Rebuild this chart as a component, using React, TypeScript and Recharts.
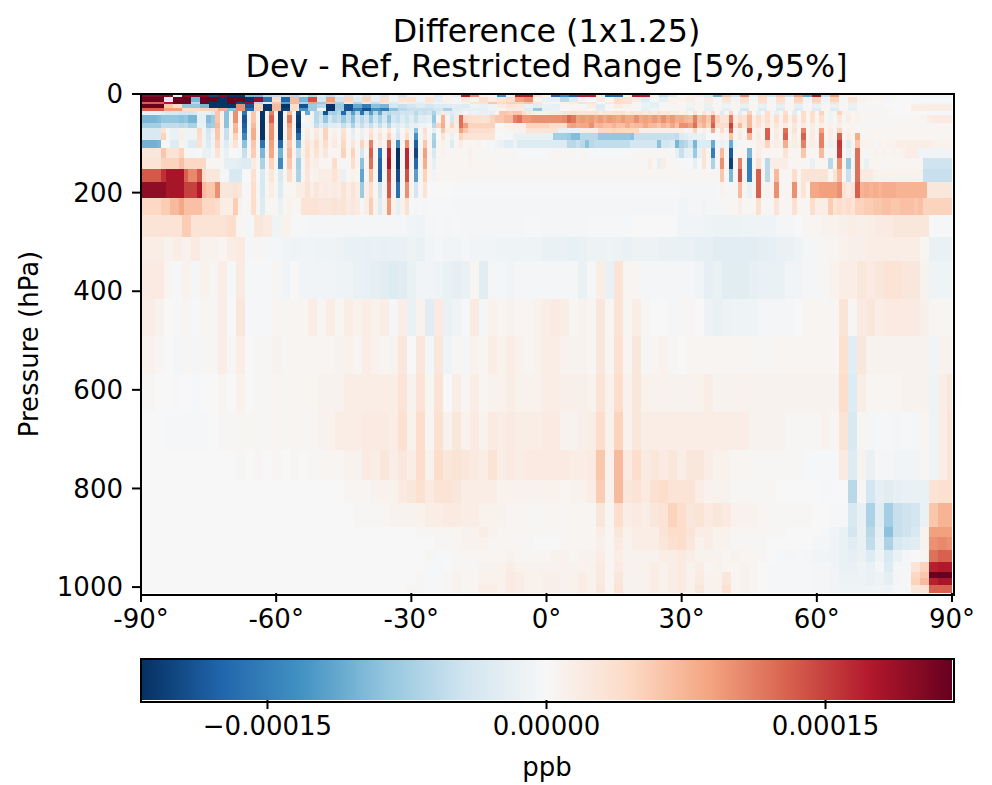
import { Scatter, ScatterChart, XAxis, YAxis } from "recharts";

const VMAX = 218;
const LAT_TICKS = [-90, -60, -30, 0, 30, 60, 90];
const PRESSURE_TICKS = [0, 200, 400, 600, 800, 1000];
const CBAR_TICKS = [-0.00015, 0, 0.00015];
const RDBU = ["#053061", "#2166ac", "#4393c3", "#92c5de", "#d1e5f0", "#f7f7f7", "#fddbc7", "#f4a582", "#d6604d", "#b2182b", "#67001f"];

// layer edges in hPa, one more than there are rows
const PRESSURE_EDGES = [0, 7, 17, 21, 29, 35, 42, 58, 68, 80, 94, 110, 129, 153, 179, 210, 246, 291, 339, 416, 491, 568, 645, 722, 783, 830, 879, 899, 925, 950, 970, 982, 996, 1012];

// rows with 91 values are 2 degree, rows with 181 values are 1 degree
const T94 = [200, 200, 200, 200, -20, 200, 200, 200, -200, 200,
  -215, -215, -100, -100, -60, -50, -50, -60, -30, -60,
  -30, -50, -20, -40, -15, -40, -15, -40, -10, -40,
  10, -10, 10, -30, 10, -20, 170, 100, 10, -5,
  -130, 10, 170, 170, 40, 10, -170, -140, -180, 170,
  170, -15, -170, -170, 10, 170, 170, 10, -50, -30,
  5, 10, 20, -30, -100, 60, -40, 100, -20, 50,
  -40, 60, -50, 90, -110, 170, -50, 90, 5, 5,
  5, 5, 5, 5, 5, 0, -5, -5, -5, -5,
  -5];
const T97 = [215, 215, 215, -30, 215, 215, -100, 215, 215, -215,
  215, 215, -215, 190, -160, 40, -175, 70, -100, 140,
  -40, 90, -45, 50, -30, 50, -20, 40, -10, 30,
  30, -10, 30, -20, 10, -5, 25, 10, 40, 20,
  30, 40, 90, 100, 10, -15, -20, -60, -30, -10,
  -5, 20, -5, 40, 30, 20, -30, -5, -20, 10,
  10, 15, -5, 20, -5, 30, -10, 40, -5, 40,
  -5, 40, -5, 50, -10, 50, -10, 50, -5, 30,
  10, 5, 5, -5, 0, 0, -3, -3, -3, -3,
  -3];
const T102 = [130, 130, 130, 175, 215, 215, -60, 215, -215, -215,
  215, -200, 190, -60, -30, 60, -120, 70, -70, 90,
  -80, 70, -70, 30, -60, 30, -50, 30, -30, 15,
  20, -20, 20, -10, 10, -5, 10, 30, 30, 60,
  40, 50, 50, 60, 30, 10, 5, 10, 15, 30,
  25, 5, 20, 40, 35, 5, -15, -20, -5, 10,
  5, 10, 5, 15, 5, 20, 5, 30, 5, 30,
  5, 30, 5, 40, 5, 40, 5, 30, 5, 20,
  5, 0, -3, -3, 0, -3, -3, -5, -5, -5,
  -5];
const T104 = [215, 215, 215, 60, 40, -85, -85, -100, -215, -215,
  -215, 100, -190, 50, -215, 70, -215, 40, -190, -80,
  -60, -215, -80, -190, -110, -150, -90, -100, -40, -50,
  -40, -30, -40, -30, -30, -25, -30, -10, -15, -10,
  20, 30, 25, -15, -25, -15, -20, 5, 5, -5,
  15, -30, 5, 20, 10, 5, -15, -20, 5, 5,
  5, -10, 5, -15, 5, -10, 5, -15, 5, -15,
  5, -20, 5, -20, 5, -15, 5, -15, 5, -15,
  3, 3, 3, 0, 0, 0, 15, 15, 15, 15,
  15];
const T108 = [130, 130, 130, 90, 90, 40, 40, 50, 50, 80,
  -90, 100, -170, 50, -215, 70, -205, 40, -130, -80,
  -10, -215, -75, -190, -150, -190, -130, -150, -90, -60,
  -50, -50, -50, -40, -70, -25, -20, -20, -20, -10,
  5, 20, 20, -30, -85, -20, -15, 0, 10, 10,
  5, -25, -5, 5, 5, -5, -20, -10, 5, 5,
  5, -15, 5, -20, 5, -20, 5, -40, 5, -30,
  5, -30, 5, -30, 5, -30, 5, -30, 5, -20,
  5, 3, 3, 3, 0, 0, 15, 15, 15, 15,
  15];
const R111 = [-15, -15, -15, -15, -15, -30, -35, -35, -35, -40,
  -40, -40, -35, -15, -15, -20, -30, 60, 10, -90,
  -10, 100, -5, -160, 5, 60, 5, -215, 10, 110,
  10, -215, 5, 70, 5, -200, 0, -110, -10, -60,
  -50, -190, -70, -75, -60, -170, -60, -120, -60, -160,
  -60, -120, -60, -110, -50, -60, -50, -50, -40, -45,
  -40, -60, -45, -50, -40, -70, -30, 20, -20, -30,
  -20, -15, -5, -15, -10, -15, -15, -15, -20, 5,
  60, 60, 55, 60, 60, 40, 25, 15, 10, 10,
  10, 15, 15, 20, 25, 30, 35, 30, 30, 30,
  30, 35, 20, 30, 25, 30, 30, 35, 20, 30,
  25, 30, 20, 25, 20, 30, 20, 25, 15, 20,
  10, 15, -5, 30, -5, 30, 10, 40, 5, -30,
  5, 50, 0, -25, 5, 50, 0, -20, 5, 40,
  5, -20, 5, 40, 0, -25, 0, 40, 5, 40,
  5, 50, 5, -10, 5, 50, 10, 10, 5, 10,
  5, 3, 5, 3, 5, 3, 0, -3, 0, 0,
  0, 0, 0, 0, 0, -3, -3, -3, -3, -3, -3];
const R114 = [-100, -100, -100, -100, -95, -85, -85, -85, -85, -90,
  -85, -100, -100, -20, -20, -95, -80, 60, 10, -90,
  5, 100, 0, -190, 5, 60, 5, -215, 10, 130,
  10, -215, 5, 115, 5, -210, 0, 10, -10, -60,
  -40, -85, -40, -60, -50, -80, -50, -90, -40, -60,
  -40, -80, -40, -70, -40, -85, -40, -50, -30, -45,
  -25, -50, -25, -25, -20, -85, 5, 75, 5, -40,
  20, 120, 45, 40, 35, 35, 30, 35, 50, 60,
  60, 70, 70, 110, 120, 95, 95, 100, 100, 100,
  100, 100, 100, 100, 105, 125, 115, 90, 95, 90,
  95, 85, 95, 85, 95, 90, 85, 95, 85, 85,
  100, 85, 90, 85, 95, 85, 100, 85, 95, 80,
  85, 75, 70, 110, 70, 80, 60, 115, 50, 30,
  30, 115, 20, 40, 30, 70, 15, 40, 15, 40,
  10, 40, 10, 45, 10, 40, 5, 40, 5, 35,
  5, 35, 5, -10, 3, 25, -5, 15, 5, 10,
  5, 5, 5, 3, 3, 3, 3, 3, 5, 5,
  5, 5, 5, 5, 5, 15, 20, 20, 20, 20, 20];
const R122 = [-75, -75, -75, -75, -75, -55, -55, -55, -55, -60,
  -55, -70, -70, -15, -15, -80, -75, 70, 10, -90,
  5, 70, 0, -180, 5, 70, 5, -215, 10, 100,
  10, -215, 5, 90, 5, -215, -10, -10, -10, -50,
  -25, -45, -25, -25, -20, -50, -25, -70, -25, -50,
  -25, -50, -20, -50, -20, -60, -20, -30, -15, -35,
  -15, -20, -10, -10, -5, -60, 50, 80, 10, 50,
  15, 120, 90, 50, 50, 50, 50, 50, 50, 0,
  0, 10, 10, 15, 15, 15, 50, 50, 50, 50,
  50, 40, 40, 40, 40, 85, 90, 80, 85, 85,
  100, 70, 75, 65, 65, 75, 65, 65, 80, 65,
  70, 70, 85, 70, 70, 60, 75, 65, 85, 65,
  100, 100, 90, 120, 60, 75, 50, 130, 40, 40,
  40, 150, 30, 70, 25, 70, 15, 30, 10, 30,
  10, 25, 10, 20, 5, 25, 5, 20, 5, 15,
  5, 15, 5, 10, 3, 15, 5, 5, 5, 5,
  3, 3, 3, 3, 3, 3, 3, 3, 3, 3,
  3, 3, 3, 3, 3, 3, 5, 5, 5, 5, 5];
const R127 = [-35, -35, -35, -35, -35, 30, -5, -15, -15, 10,
  -10, -10, -10, 45, -10, -40, -15, 60, 5, -50,
  5, 75, 0, -170, 5, 80, 5, -215, 10, 100,
  5, -215, 5, 80, 5, -200, 5, 15, 5, 20,
  5, 50, 5, 10, -5, 30, 0, -25, 0, -15,
  5, 25, 5, 15, 0, 30, 0, -30, 0, 20,
  -10, -90, -5, 40, 0, -20, 0, 60, 15, 15,
  15, 90, 60, 40, 40, 40, 40, 40, 35, 5,
  5, 5, 10, 10, 10, 10, 30, 30, 30, 30,
  30, 30, 30, -15, -15, -15, -15, -15, 15, 15,
  15, 15, 45, 45, 45, 50, 45, 45, 45, 45,
  45, 15, 15, 15, 15, 15, 15, 15, 15, 15,
  15, 5, 10, 50, 5, 15, 5, 80, 5, 40,
  10, 130, 5, 15, 5, 130, 5, 15, 5, 130,
  5, 15, 5, 120, 5, 30, 0, 110, 5, 15,
  5, 90, 5, 15, 5, 50, 5, 10, 5, 5,
  3, 3, 3, 3, 3, 3, 3, 3, 3, 3,
  3, 3, 3, 3, 3, 3, 3, 3, 3, 3, 3];
const R133 = [-35, -35, -35, -35, -35, 50, -5, -15, -15, 15,
  -10, -10, -10, 40, -10, -35, -10, 60, 5, -50,
  5, 50, 0, -140, 5, 80, 5, -215, 10, 100,
  5, -215, 5, 80, 5, -170, 5, 20, 5, 25,
  5, 50, 5, 15, -5, 40, 5, -20, 5, -15,
  5, 40, 5, 30, 5, 50, 5, -40, 5, 40,
  -5, -130, -5, 30, -5, -70, 0, 30, 5, -15,
  5, 50, 30, 30, 30, 30, 30, 30, 30, -3,
  -3, -3, -3, -15, -15, -15, -15, -15, -15, -15,
  -15, -15, -75, -75, -75, -80, -95, -95, -60, -60,
  -60, -60, -85, -85, -85, -85, -85, -85, -85, -90,
  -50, -50, -50, -50, -50, -50, -50, -50, -50, -55,
  -30, -25, -20, -20, -15, -20, 0, -5, 0, 10,
  5, 60, 5, 20, 5, 70, 5, 20, 5, 130,
  5, 20, 5, 130, 5, 20, 5, 130, 5, 20,
  5, 110, 5, 15, 5, 130, 5, 15, 5, 80,
  5, 5, 5, 5, 5, 5, 5, 5, 5, 5,
  5, 5, 5, 5, 5, 5, 5, 5, 5, 5, 5];
const R140 = [-105, -105, -105, -105, -100, -5, -5, -30, -30, 10,
  -10, -30, -30, 35, -10, -30, -10, 50, -10, -30,
  10, 30, 0, -90, -5, 60, 5, -160, 5, 90,
  5, -170, 5, 60, 5, -100, 10, 30, 15, 40,
  10, 40, 5, 20, 5, 45, 5, 25, 5, 50,
  10, 110, 5, 20, 5, 120, 5, -140, 5, 100,
  5, -180, 5, 60, 5, -75, 5, 10, 5, -30,
  5, 15, 5, 5, 5, 10, 0, -5, -5, -10,
  -15, -25, -25, -10, -30, -30, -30, -30, -30, -30,
  -30, -30, -30, -30, -30, -60, -60, -50, -60, -90,
  -60, -55, -55, -55, -55, -55, -55, -55, -55, -40,
  -40, -40, -40, -40, -40, -90, -40, -40, -30, -100,
  -70, -60, -40, -100, -30, -30, -30, -110, -10, -15,
  -10, -110, -10, -5, 5, 5, 5, 15, 15, 50,
  10, 15, 10, 80, 10, 15, 10, 110, 10, 15,
  10, 110, 10, -15, 10, 155, 10, -30, 10, 60,
  10, 10, 10, -5, 10, 5, 10, 10, 15, 15,
  15, 15, 15, 15, 15, 15, 10, 10, 10, 10, 10];
const R148 = [25, 25, 25, 25, 25, 60, 30, 30, 30, 50,
  5, -5, -5, -3, -15, -15, -5, 30, -5, -15,
  0, 0, -5, -50, 5, 55, 5, -100, 10, 85,
  5, -105, 5, 70, 5, -50, 10, 40, 10, 30,
  10, 25, 5, 5, 5, 50, 5, 50, 5, -40,
  5, 130, 5, -160, 5, 170, 5, -218, 5, 165,
  5, -200, 5, 90, 5, -35, 5, 10, 5, 3,
  5, 3, 3, 12, 3, 3, 3, 3, 3, 3,
  3, 3, 3, 3, -3, -3, -3, -3, -3, -3,
  -3, 3, 3, 3, 3, 3, 3, -3, 3, 3,
  -3, -3, -3, -3, -3, -3, -3, -3, -3, -3,
  3, 3, 3, 3, 3, 3, 3, 3, -5, -20,
  -50, -20, -15, -80, -15, 30, 5, -150, 5, 70,
  5, -185, 5, 5, 5, -100, 5, 15, 5, 5,
  5, 5, 5, 30, 5, 5, 5, 60, 5, 5,
  5, 70, 5, 5, 5, 150, 5, -15, 5, 120,
  5, -5, 5, 10, 5, 10, 5, 10, 5, 10,
  15, 15, 15, -8, -8, -8, -8, -8, -8, -8, -8];
const R157 = [30, 30, 30, 30, 30, 50, 50, 50, 50, 65,
  45, 45, 45, 45, 45, 3, 3, 3, 3, -20,
  -20, -20, -25, -30, -30, 20, 5, -70, 5, 50,
  5, -140, 5, 60, 5, -75, 5, 30, 10, 15,
  5, 5, 5, 40, 5, -5, 5, 40, 5, -90,
  5, 120, 5, -175, 5, 180, 5, -215, 5, 165,
  5, -170, 5, 80, 5, -20, 5, 5, 5, 5,
  5, 5, 5, 8, 5, 5, 5, 5, 5, 5,
  3, 3, 3, 3, 3, 3, 3, 3, 3, 3,
  3, 3, 3, 3, 3, 3, 3, 3, 3, 3,
  3, 3, 3, 3, 3, 3, 3, 3, 3, 3,
  3, 3, 3, 15, 3, -20, 15, 3, 3, 3,
  -3, -3, -3, -20, -3, 30, 3, -70, 3, 100,
  3, -205, 3, 110, 3, -150, 3, 35, 3, -60,
  15, 15, 15, 15, 5, 5, 5, 5, 5, -15,
  5, 5, 5, -60, 5, 100, 5, -85, 5, 120,
  5, -15, 5, 5, 5, -5, 5, 5, 5, 5,
  5, 5, 5, 5, -45, -45, -45, -45, -45, -45, -45];
const R169 = [135, 135, 135, 135, 135, 160, 180, 180, 180, 180,
  130, 105, 105, 135, 40, 25, 25, 25, -5, -5,
  -35, -35, -35, 0, 0, 35, 0, -35, 5, 25,
  5, -35, 5, 40, 5, -70, 5, 25, 5, 10,
  15, 15, 15, 30, 15, -15, 5, 10, 5, -115,
  5, 70, 5, -180, 5, 145, 5, -195, 5, 140,
  5, -120, 5, 50, 5, -8, 5, 5, 5, 5,
  5, 5, 5, 5, 5, 5, 5, 5, 5, 5,
  5, 5, 5, 5, 5, 5, 5, 5, 5, 5,
  5, 5, 5, 5, 5, 5, 5, 5, 5, 5,
  5, 5, 5, 5, 5, 5, 5, 5, 5, 5,
  5, 5, 5, 5, 5, 5, 5, 5, 5, 5,
  3, 3, 3, 3, 3, 5, 3, 3, 3, 60,
  3, -100, 3, 140, 3, -150, 3, 130, 3, -60,
  5, 70, 5, 5, 5, 40, 5, 30, 30, 30,
  30, 30, 30, 5, 30, 70, 5, -50, 5, 120,
  20, 20, 20, 10, 10, 10, 10, 10, 10, 10,
  10, 10, 10, 10, -50, -50, -50, -50, -50, -50, -50];
const R182 = [195, 195, 195, 195, 195, 195, 180, 180, 180, 180,
  150, 150, 150, 175, 70, 60, 60, 100, 25, 25,
  25, 30, 25, -5, 5, 40, 5, -35, 5, 15,
  5, -30, 5, 5, 5, 15, 15, 30, 15, 25,
  15, 20, 15, 20, 15, 30, 15, 30, 15, -80,
  15, 40, 5, -45, 5, 135, 5, -165, 5, 100,
  5, -40, 5, 30, 0, 0, 0, 0, 0, 0,
  -3, -3, -3, -3, -3, -3, -3, -3, -3, -3,
  -3, -3, -3, -3, -3, -3, -3, -3, -3, -3,
  -3, -3, -3, -3, -3, -3, -3, -3, -3, -3,
  -3, -3, -3, -3, -3, -3, -3, -3, -3, -3,
  -3, -3, -3, -3, -3, -3, -3, -3, -3, -3,
  -5, -5, -5, -5, -5, -5, -5, -5, -3, 10,
  3, 3, 3, 70, 3, -15, 3, 130, 3, 10,
  5, 100, 5, 5, 5, 100, 5, 30, 5, 85,
  85, 90, 90, 90, 90, 100, 30, 20, 30, 130,
  75, 80, 75, 80, 75, 80, 80, 80, 75, 75,
  75, 75, 75, 75, 75, 25, 25, 25, 25, 25, 25];
const R197 = [45, 45, 45, 45, 45, 55, 55, 70, 70, 85,
  65, 65, 65, 65, 45, 45, 45, 40, 15, 15,
  15, 55, 10, -3, 5, 40, 5, -30, 5, 5,
  5, -15, 5, 10, 5, 5, 30, 30, 30, 30,
  25, 25, 25, 30, 25, 30, 20, 25, 20, -5,
  15, 55, 10, -30, 10, 95, 10, -20, 10, 35,
  -3, -5, -3, 3, -3, -3, -3, -3, -3, -3,
  -5, -5, -5, -5, -5, -5, -5, -5, -5, -5,
  -5, -5, -5, -5, -5, -5, -5, -5, -5, -5,
  -5, -5, -5, -5, -5, -5, -5, -5, -5, -5,
  -5, -5, -5, -5, -5, -5, -5, -5, -5, -5,
  -5, -5, -5, -5, -5, -5, -5, -5, -5, -5,
  -8, -8, -5, -5, -5, -8, -5, -5, -5, -5,
  3, 3, 3, 15, 3, 3, 5, 35, 3, 3,
  3, 30, 5, 5, 3, 35, 5, 5, 5, 40,
  15, 15, 15, 55, 30, 40, 30, 40, 30, 50,
  50, 55, 55, 60, 60, 65, 65, 60, 60, 65,
  65, 65, 60, 65, 50, 50, 50, 50, 50, 50, 50];
const L215 = [30, 30, 30, 30, 30, 55, 30, 30, 30, 30,
  40, 5, -5, 25, 20, -10, 10, -3, -3, -5,
  -5, -5, -5, -5, -5, -5, -5, -5, -5, -5,
  -8, -10, -5, -3, -5, -3, -5, -5, -5, -5,
  -5, -5, -5, -3, -3, -5, -5, -5, -5, -5,
  -3, -3, -3, -3, -3, 0, 0, 0, 0, 0,
  -8, -8, -8, -10, -12, -12, -12, -10, -10, -10,
  -10, -5, -5, 0, 5, 5, 8, 10, 12, 15,
  12, 15, 18, 20, 25, 25, 25, 25, -3, -3,
  -3];
const L237 = [15, 15, 15, 8, 15, 8, 20, 8, 10, 5,
  15, 20, -5, 5, -5, -5, -8, -10, -8, -8,
  -10, -10, -12, -15, -15, -18, -15, -18, -15, -15,
  -12, -15, -8, -5, -8, -8, -5, -8, -8, -8,
  -10, -10, -10, -10, -10, -15, -15, -15, -18, -15,
  -12, -12, -10, -12, -15, -12, -12, -12, -15, -15,
  -15, -15, -20, -20, -25, -25, -25, -25, -25, -22,
  -20, -15, -15, -10, -5, -5, 3, 5, 10, 12,
  12, 15, 15, 15, 15, 15, 15, 5, -15, -15,
  -15];
const L261 = [20, 20, 20, 5, -3, 10, -5, 10, 3, 15,
  -3, 20, -3, -3, -3, 5, -8, 0, -8, -8,
  -8, -8, -10, -10, -15, -18, -22, -25, -30, -25,
  -15, -8, -8, -10, -15, -20, -15, 5, -25, -5,
  -5, -8, -5, -5, -5, -5, -5, -5, -5, -15,
  -5, 15, -15, 30, 5, 5, -5, -5, -5, -5,
  -5, -5, -8, -20, -15, -25, -25, -25, -20, -15,
  -15, -15, -8, -8, -5, -5, 3, 10, 15, 15,
  25, 20, 25, 30, 30, 25, 25, 8, -10, -10,
  -10];
const L299 = [15, 15, 8, 0, -3, 5, -3, 5, 3, 15,
  0, 25, -3, -3, -3, 5, 3, 5, 5, 15,
  5, 15, 5, 15, 10, 15, 10, 15, -5, 15,
  -15, 10, -25, 20, -15, -10, -3, 20, -5, 10,
  5, 8, 5, 5, 10, 15, 20, 15, 5, 8,
  5, 25, 5, 30, 5, 15, 3, 0, 0, -5,
  3, 3, 0, -12, -15, -12, -10, -10, -10, -5,
  -5, -5, -5, 0, 5, 5, 3, 5, 30, 3,
  20, 25, 15, 20, 20, 20, 18, 12, 5, 5,
  5];
const L336 = [10, 10, 3, 0, -5, 3, -5, 3, 3, 15,
  3, 15, 0, 3, 3, 8, 3, 5, 3, 5,
  5, 5, 8, 10, 5, 15, 10, 5, 8, 25,
  0, 25, -5, 25, -10, 3, -5, 10, 5, 15,
  10, 15, 10, 5, 10, 15, 15, 10, 8, 8,
  5, 25, 5, 35, 5, 25, 3, 5, 10, 3,
  0, 5, 5, 5, 5, 3, 5, 5, 3, 3,
  3, 5, 5, 5, 5, 5, 5, 5, 35, -25,
  25, 8, 8, 8, 8, 8, 8, 8, -8, 8,
  8];
const L374 = [3, 3, 0, 0, -3, 0, -3, 0, 0, 5,
  0, 10, 0, 3, 3, 5, 3, 5, 5, 5,
  8, 8, 8, 15, 15, 15, 15, 15, 15, 30,
  8, 30, 5, 30, 0, 15, 5, 15, 5, 10,
  10, 15, 10, 10, 10, 15, 15, 12, 12, 12,
  10, 30, 10, 40, 10, 25, 10, 10, 10, 8,
  8, 8, 10, 15, 8, 8, 8, 10, 8, 8,
  8, 8, 8, 8, 8, 8, 8, 8, 40, -30,
  15, 5, 5, 5, 5, 8, 8, 8, -10, 15,
  25];
const L412 = [0, 0, 0, -2, -2, -2, -2, -2, 0, 3,
  3, 5, 3, 3, 3, 5, 3, 5, 3, 5,
  8, 10, 15, 15, 15, 20, 20, 20, 15, 35,
  10, 40, 5, 35, 10, 25, 10, 20, 10, 20,
  15, 20, 15, 15, 15, 20, 20, 8, 8, 12,
  15, 40, 10, 50, 10, 25, 15, 15, 15, 15,
  15, 15, 15, 15, 15, 15, 15, 15, 8, 8,
  8, 8, 3, 3, 3, 3, 10, 5, 30, -35,
  5, -5, -3, -3, -5, -3, -5, 5, -10, 15,
  30];
const L450 = [0, 0, 0, 0, 0, 0, 0, 0, 0, 0,
  0, 3, 0, 3, 0, 3, 0, 3, 0, 3,
  3, 5, 5, 10, 8, 20, 15, 25, 15, 25,
  15, 40, 10, 40, 25, 30, 25, 20, 15, 30,
  15, 20, 15, 20, 20, 20, 20, 20, 15, 15,
  20, 60, 10, 70, 20, 40, 20, 25, 20, 25,
  15, 25, 25, 15, 10, 10, 5, 5, 3, 3,
  3, 3, 3, 3, -3, -3, -3, -3, 20, -30,
  8, -15, -5, -5, -8, -8, -8, 5, -10, 15,
  30];
const L480 = [0, 0, 0, 0, 0, 0, 0, 0, 0, 0,
  0, 0, 0, 0, 0, 0, 0, 0, 0, 0,
  0, 0, 0, 3, 3, 5, 8, 10, 10, 20,
  25, 35, 20, 30, 30, 25, 15, 15, 15, 15,
  10, 10, 10, 8, 8, 10, 10, 5, 8, 10,
  15, 55, 8, 70, 25, 30, 20, 35, 40, 30,
  30, 30, 15, 10, 8, 8, 3, 3, 3, 3,
  3, 0, 0, 0, 0, 0, -3, -3, 0, -60,
  3, -40, -20, -25, -20, -15, -15, -15, 30, 35,
  35];
const L503 = [0, 0, 0, 0, 0, 0, 0, 0, 0, 0,
  0, 0, 0, 0, 0, 0, 0, 0, 0, 0,
  0, 0, 0, 0, 3, 3, 3, 5, 8, 8,
  8, 10, 15, 15, 20, 20, 15, 15, 10, 10,
  8, 5, 5, 3, 3, 5, 5, 3, 5, 5,
  5, 25, 5, 40, 15, 20, 15, 25, 30, 50,
  40, 25, 30, 20, 25, 20, 10, 10, 8, 5,
  3, 3, 3, 3, 3, 0, 0, -3, -3, -35,
  -15, -70, -25, -75, -50, -45, -40, -15, 60, 75,
  75];
const L527 = [0, 0, 0, 0, 0, 0, 0, 0, 0, 0,
  0, 0, 0, 0, 0, 0, 0, 0, 0, 0,
  0, 0, 0, 0, 0, 0, 0, 0, 0, 0,
  0, 3, 3, 5, 5, 5, 8, 10, 15, 8,
  5, 5, 5, 5, 3, 3, 3, 3, 5, 3,
  5, 15, 5, 25, 10, 15, 15, 15, 30, 40,
  40, 30, 15, 15, 10, 10, 5, 5, 5, 3,
  3, 3, 0, 0, 0, 0, -3, -8, -15, -40,
  -15, -60, -20, -90, -50, -45, -35, 10, 90, 90,
  90];
const L537 = [0, 0, 0, 0, 0, 0, 0, 0, 0, 0,
  0, 0, 0, 0, 0, 0, 0, 0, 0, 0,
  0, 0, 0, 0, 0, 0, 0, 0, 0, 0,
  0, 0, 0, 3, 3, 5, 8, 8, 10, 5,
  5, 5, 3, 3, 0, 0, 0, 3, 5, 3,
  5, 12, 5, 20, 8, 15, 15, 15, 25, 35,
  40, 25, 10, 15, 8, 8, 3, 3, 3, 3,
  0, 0, 0, 0, 0, -5, -5, -10, -15, -25,
  -15, -55, -15, -70, -35, -30, -25, 8, 100, 105,
  100];
const L550 = [0, 0, 0, 0, 0, 0, 0, 0, 0, 0,
  0, 0, 0, 0, 0, 0, 0, 0, 0, 0,
  0, 0, 0, 0, 0, 0, 0, 0, 0, 0,
  0, 0, 3, -3, -3, 3, 5, 3, 5, 5,
  5, 8, 5, 3, 5, 5, 8, 8, 5, 8,
  8, 15, 5, 15, 8, 8, 8, 8, 15, 15,
  20, 15, 8, 8, 8, 5, 8, 5, 5, 3,
  0, -3, -5, -3, -5, -8, -8, -10, -15, -20,
  -15, -30, -10, -35, -15, -5, 0, 5, 120, 130,
  130];
const L562 = [0, 0, 0, 0, 0, 0, 0, 0, 0, 0,
  0, 0, 0, 0, 0, 0, 0, 0, 0, 0,
  0, 0, 0, 0, 0, 0, 0, 0, 0, 0,
  0, 0, -3, -3, 0, 3, 3, 3, 8, 8,
  10, 15, 10, 8, 8, 8, 8, 10, 8, 10,
  8, 20, 5, 20, 8, 10, 10, 15, 10, 15,
  20, 10, 15, 5, 8, 5, 5, 8, 5, 0,
  -3, -3, -3, -3, -3, -5, -5, -8, -15, -15,
  -10, -15, -5, -30, -5, -5, 30, 50, 170, 175,
  175];
const L572 = [0, 0, 0, 0, 0, 0, 0, 0, 0, 0,
  0, 0, 0, 0, 0, 0, 0, 0, 0, 0,
  0, 0, 0, 0, 0, 0, 0, 0, 0, 0,
  0, 3, -3, -3, 3, 8, 5, 5, 10, 10,
  10, 20, 15, 10, 10, 12, 12, 8, 10, 15,
  10, 20, 5, 25, 8, 8, 10, 15, 10, 15,
  20, 10, 20, 8, 10, 25, 5, 8, 5, 0,
  -3, -3, -3, -3, -3, -5, -5, -8, -12, -12,
  -12, -15, -12, -20, -5, -3, 45, 60, 215, 218,
  218];
const L578 = [0, 0, 0, 0, 0, 0, 0, 0, 0, 0,
  0, 0, 0, 0, 0, 0, 0, 0, 0, 0,
  0, 0, 0, 0, 0, 0, 0, 0, 0, 0,
  0, 3, -3, -3, 3, 8, 5, 5, 10, 10,
  10, 20, 15, 10, 10, 12, 12, 8, 10, 15,
  10, 20, 5, 25, 8, 8, 10, 15, 10, 15,
  20, 10, 20, 8, 10, 25, 5, 8, 5, 0,
  -3, -3, -3, -3, -3, -5, -5, -8, -12, -12,
  -12, -15, -12, -20, -5, -3, 50, 70, 170, 180,
  180];
const L585 = [0, 0, 0, 0, 0, 0, 0, 0, 0, 0,
  0, 0, 0, 0, 0, 0, 0, 0, 0, 0,
  0, 0, 0, 0, 0, 0, 0, 0, 0, 0,
  3, 3, -3, -3, 3, 8, 5, 5, 15, 15,
  10, 20, 15, 10, 10, 12, 12, 8, 10, 15,
  10, 25, 5, 30, 8, 8, 10, 15, 10, 15,
  20, 10, 25, 8, 10, 35, 5, 8, 5, 0,
  -3, -3, -3, -3, -3, -5, -5, -8, -10, -10,
  -10, -10, -8, -10, -3, -3, 25, 30, 130, 130,
  130];

const ROWS = [T94, T97, T102, T104, T108, R111, R114, R122, R127, R133, R140, R148, R157, R169, R182, R197,
  L215, L237, L261, L299, L336, L374, L412, L450, L480, L503, L527, L537, L550, L562, L572, L578, L585];

const WIDTH = 992;
const HEIGHT = 785;
const PLOT_LEFT = 141;
const PLOT_RIGHT = 952;
const PLOT_TOP = 94;
const PLOT_BOTTOM = 593;
const CBAR_TOP = 659;
const CBAR_HEIGHT = 41;
const P_MAX = 1012;
const FONT = "'DejaVu Sans', sans-serif";

const colorFor = (v: number) => {
  const t = Math.min(1, Math.max(0, 0.5 + v / (2 * VMAX))) * (RDBU.length - 1);
  const i = Math.min(RDBU.length - 2, Math.floor(t));
  const f = t - i;
  const parse = (c: string) => [1, 3, 5].map((k) => parseInt(c.slice(k, k + 2), 16));
  const a = parse(RDBU[i]);
  const b = parse(RDBU[i + 1]);
  return `rgb(${a.map((x, k) => Math.round(x + (b[k] - x) * f)).join(",")})`;
};

const cells = ROWS.flatMap((row, r) => {
  const step = 180 / (row.length - 1);
  return row.map((v, i) => {
    const lat0 = Math.max(-90, -90 + (i - 0.5) * step);
    const lat1 = Math.min(90, -90 + (i + 0.5) * step);
    return {
      lat: (lat0 + lat1) / 2,
      p: (PRESSURE_EDGES[r] + PRESSURE_EDGES[r + 1]) / 2,
      dLat: lat1 - lat0,
      dP: PRESSURE_EDGES[r + 1] - PRESSURE_EDGES[r],
      v,
    };
  });
});

const CellShape = (props: any) => {
  const { cx, cy, payload } = props;
  const w = (payload.dLat * (PLOT_RIGHT - PLOT_LEFT)) / 180;
  const h = (payload.dP * (PLOT_BOTTOM - PLOT_TOP)) / P_MAX;
  return <rect x={cx - w / 2} y={cy - h / 2} width={w} height={h} fill={colorFor(payload.v)} shapeRendering="crispEdges" />;
};

// the colorbar is one point in the middle of its axis, painted with the colormap
const ColorbarShape = (props: any) => {
  const { cx, cy } = props;
  const w = PLOT_RIGHT - PLOT_LEFT;
  return (
    <g>
      <defs>
        <linearGradient id="rdbu" x1="0" y1="0" x2="1" y2="0">
          {RDBU.map((c, i) => (
            <stop key={c} offset={i / (RDBU.length - 1)} stopColor={c} />
          ))}
        </linearGradient>
      </defs>
      <rect x={cx - w / 2} y={cy - CBAR_HEIGHT / 2} width={w} height={CBAR_HEIGHT} fill="url(#rdbu)" />
    </g>
  );
};

const tickStyle = { fontSize: 26, fontFamily: FONT, fill: "#000" };
const tickLine = { stroke: "#000", strokeWidth: 2 };

export default function App() {
  return (
    <div style={{ position: "absolute", left: 0, top: 0, width: WIDTH, height: HEIGHT, background: "#fff", fontFamily: FONT, color: "#000" }}>
      <div style={{ position: "absolute", left: PLOT_LEFT, width: PLOT_RIGHT - PLOT_LEFT, top: 14, textAlign: "center", fontSize: 31.7, lineHeight: "35px", whiteSpace: "nowrap" }}>
        Difference (1x1.25)
        <br />
        Dev - Ref, Restricted Range [5%,95%]
      </div>
      <ScatterChart
        width={WIDTH}
        height={660}
        style={{ position: "absolute", left: 0, top: 0 }}
        margin={{ left: PLOT_LEFT - 130, right: WIDTH - PLOT_RIGHT, top: PLOT_TOP, bottom: 660 - PLOT_BOTTOM - 50 }}
      >
        <XAxis
          type="number"
          dataKey="lat"
          domain={[-90, 90]}
          ticks={LAT_TICKS}
          height={50}
          interval={0}
          tickFormatter={(v) => `${v}°`}
          tick={tickStyle}
          tickLine={tickLine}
          tickSize={9}
          tickMargin={8}
          axisLine={false}
        />
        <YAxis
          type="number"
          dataKey="p"
          reversed
          domain={[0, P_MAX]}
          ticks={PRESSURE_TICKS}
          width={130}
          interval={0}
          tick={tickStyle}
          tickLine={tickLine}
          tickSize={9}
          tickMargin={9}
          axisLine={false}
        />
        <Scatter data={cells} shape={CellShape} isAnimationActive={false} />
      </ScatterChart>
      <div style={{ position: "absolute", left: PLOT_LEFT - 1, top: PLOT_TOP - 1, width: PLOT_RIGHT - PLOT_LEFT, height: PLOT_BOTTOM - PLOT_TOP, border: "2px solid #000" }} />
      <div style={{ position: "absolute", left: 29, top: 344, fontSize: 26, whiteSpace: "nowrap", transform: "translate(-50%,-50%) rotate(-90deg)" }}>Pressure (hPa)</div>

      <ScatterChart
        width={WIDTH}
        height={135}
        style={{ position: "absolute", left: 0, top: 650 }}
        margin={{ left: PLOT_LEFT, right: WIDTH - PLOT_RIGHT, top: CBAR_TOP - 650, bottom: 135 - (CBAR_TOP - 650) - CBAR_HEIGHT - 50 }}
      >
        <XAxis
          type="number"
          dataKey="v"
          domain={[-VMAX * 1e-6, VMAX * 1e-6]}
          ticks={CBAR_TICKS}
          height={50}
          interval={0}
          tickFormatter={(v) => v.toFixed(5).replace("-", "\u2212")}
          tick={tickStyle}
          tickLine={tickLine}
          tickSize={9}
          tickMargin={8}
          axisLine={false}
        />
        <YAxis type="number" dataKey="y" domain={[0, 1]} hide />
        <Scatter data={[{ v: 0, y: 0.5 }]} shape={ColorbarShape} isAnimationActive={false} />
      </ScatterChart>
      <div style={{ position: "absolute", left: PLOT_LEFT - 1, top: CBAR_TOP - 1, width: PLOT_RIGHT - PLOT_LEFT, height: CBAR_HEIGHT, border: "2px solid #000" }} />
      <div style={{ position: "absolute", left: 547, top: 767, fontSize: 26, transform: "translate(-50%,-50%)" }}>ppb</div>
    </div>
  );
}
